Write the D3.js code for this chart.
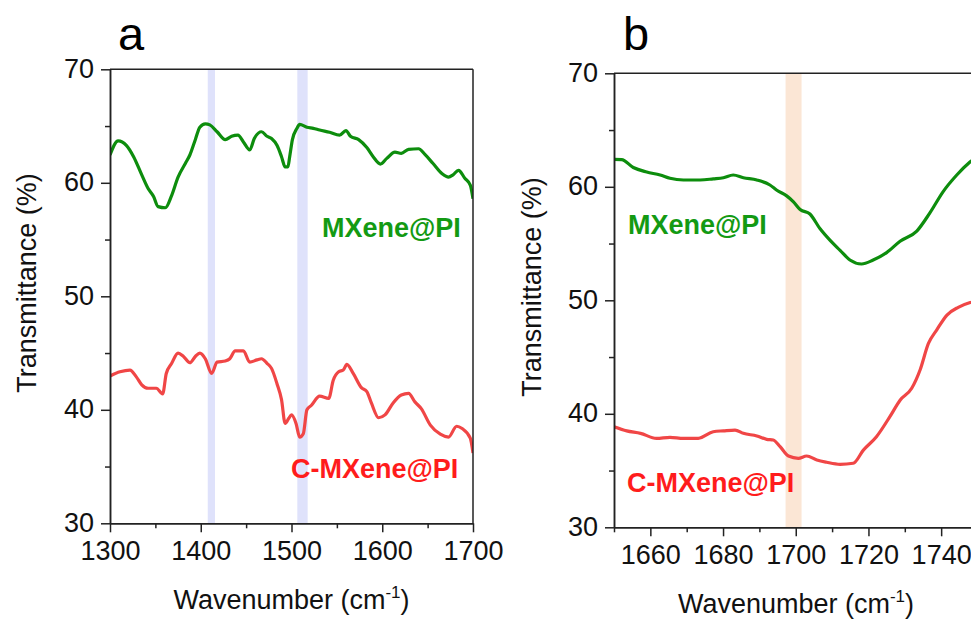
<!DOCTYPE html>
<html>
<head>
<meta charset="utf-8">
<script src="https://cdn.jsdelivr.net/npm/d3@7"></script>
<style>
  body { margin: 0; background: #fff; }
  svg { display: block; font-family: "Liberation Sans", Arial, sans-serif; }
</style>
</head>
<body>
<svg id="chart" width="971" height="619"></svg>
<script>
// ---------------- DATA ----------------
// Panel a: wavenumber (cm-1) and transmittance (%)
const aMXeneWn = [1300,1309,1318,1326,1335,1342,1348,1353,1361,1368,1375,1383,1388,1394,1399,1405,1410,1418,1427,1434,1441,1447,1454,1459,1467,1473,1478,1484,1489,1493,1496,1498,1501,1506,1509,1517,1524,1531,1542,1553,1560,1565,1574,1583,1590,1598,1605,1614,1621,1629,1640,1647,1656,1666,1673,1678,1684,1691,1697,1700];
const aMXeneT  = [62.45,63.7,63.3,62.3,60.7,59.5,58.8,57.9,57.8,58.9,60.5,61.7,62.45,63.8,64.9,65.2,65.1,64.5,63.8,64.1,64.2,63.6,62.9,63.9,64.5,64.1,63.9,63.3,62.3,61.4,61.4,62.3,63.8,64.8,65.15,64.9,64.8,64.65,64.45,64.2,64.6,64.1,63.8,63.1,62.3,61.65,62.15,62.7,62.6,62.95,63.0,62.5,61.7,60.8,60.5,60.7,61.1,60.4,59.8,58.6];
const aCMXeneWn = [1300,1311,1322,1329,1335,1342,1351,1358,1362,1368,1375,1381,1388,1394,1399,1405,1412,1418,1427,1432,1438,1447,1454,1462,1467,1473,1478,1484,1489,1493,1497,1500,1505,1509,1513,1517,1522,1531,1541,1546,1552,1557,1561,1568,1577,1583,1588,1596,1603,1612,1621,1629,1636,1643,1653,1664,1673,1682,1688,1697,1700];
const aCMXeneT  = [42.98,43.35,43.5,42.9,42.2,41.9,41.9,41.4,43.2,44.1,45.0,44.7,44.15,44.7,45.0,44.5,43.2,44.2,44.3,44.5,45.2,45.2,44.2,44.4,44.5,44.1,43.65,42.3,40.9,38.8,39.25,39.55,38.8,37.6,37.9,40.0,40.4,41.2,41.0,42.6,43.35,43.5,44.0,43.2,41.95,41.6,40.6,39.3,39.55,40.6,41.3,41.45,40.7,40.1,38.65,37.85,37.6,38.55,38.35,37.5,36.2];

// Panel b
const bMXeneWn = [1650,1652.1,1655.3,1659,1662.7,1665.4,1669.1,1673.7,1677.3,1680.1,1682.8,1685.6,1689.3,1692.9,1694.8,1697.5,1699.3,1701.2,1703.9,1706.7,1709.4,1712.2,1714.9,1718.1,1721.3,1725,1728.7,1733.3,1736.9,1740.6,1744.3,1748,1750];
const bMXeneT  = [62.42,62.4,61.7,61.3,61.04,60.75,60.6,60.6,60.7,60.8,61.04,60.8,60.6,60.16,59.7,59.2,58.7,58.0,57.6,56.3,55.3,54.4,53.55,53.2,53.55,54.2,55.2,56.1,57.7,59.6,61.04,62.2,62.7];
const bCMXeneWn = [1650,1653.5,1657.3,1661.7,1665.4,1669.1,1673.2,1677.3,1680.1,1683.3,1685.6,1689.3,1692,1693.8,1695.7,1698,1700.7,1703,1705.8,1708.5,1712.2,1715.8,1718.6,1722.2,1725.9,1728.7,1731.9,1734.2,1736.5,1738.8,1741.6,1744.7,1748,1750];
const bCMXeneT  = [38.86,38.5,38.28,37.84,37.93,37.84,37.84,38.42,38.5,38.57,38.28,38.05,37.75,37.69,37.1,36.28,36.08,36.28,35.93,35.73,35.55,35.64,36.8,37.98,39.75,41.2,42.25,43.86,46.2,47.4,48.7,49.38,49.8,49.95];

// Highlight bands [from, to] in cm-1
const aBands = [[1407.7, 1415.7], [1506.4, 1517.8]];
const bBands = [[1697.2, 1701.6]];

// Axis ticks
const aXTicks = [1300, 1400, 1500, 1600, 1700];
const aXMinor = [1350, 1450, 1550, 1650];
const bXTicks = [1660, 1680, 1700, 1720, 1740];
const bXMinor = [1650, 1670, 1690, 1710, 1730, 1750];
const yTicks = [30, 40, 50, 60, 70];
const yMinor = [35, 45, 55, 65];

const seriesNames = ["MXene@PI", "C-MXene@PI"];
const panelLetters = ["a", "b"];

// ---------------- STYLE ----------------
const GREEN_LINE = "#0d8d0d", RED_LINE = "#f04646";
const GREEN_TEXT = "#139a13", RED_TEXT = "#ff1c1c";
const AXIS = "#222";

const svg = d3.select("#chart");

function panel(cfg) {
  const x = d3.scaleLinear().domain(cfg.xDomain).range([cfg.left, cfg.right]);
  const y = d3.scaleLinear().domain([30, 70]).range([cfg.bottom, cfg.top]);
  const g = svg.append("g");

  // bands
  g.selectAll("rect.band").data(cfg.bands).enter().append("rect")
    .attr("x", d => x(d[0])).attr("width", d => x(d[1]) - x(d[0]))
    .attr("y", cfg.top).attr("height", cfg.bottom - cfg.top)
    .attr("fill", cfg.bandColor);

  // clip
  const clipId = "clip" + cfg.id;
  svg.append("clipPath").attr("id", clipId).append("rect")
    .attr("x", cfg.left).attr("y", cfg.top)
    .attr("width", cfg.right - cfg.left).attr("height", cfg.bottom - cfg.top);

  const line = d3.line().curve(d3.curveMonotoneX).x(d => x(d[0])).y(d => y(d[1]));
  cfg.series.forEach(s => {
    g.append("path")
      .datum(s.wn.map((w, i) => [w, s.t[i]]))
      .attr("clip-path", `url(#${clipId})`)
      .attr("fill", "none").attr("stroke", s.color)
      .attr("stroke-width", 3.2).attr("stroke-linejoin", "round")
      .attr("d", line);
  });

  // frame lines (top & right)
  g.append("line").attr("x1", cfg.left).attr("x2", cfg.frameRight).attr("y1", cfg.top).attr("y2", cfg.top)
    .attr("stroke", AXIS).attr("stroke-width", 1.5);
  if (cfg.showRight) {
    g.append("line").attr("x1", cfg.right).attr("x2", cfg.right).attr("y1", cfg.top).attr("y2", cfg.bottom)
      .attr("stroke", AXIS).attr("stroke-width", 1.5);
  }

  // axes
  const xAx = g.append("g").attr("transform", `translate(0,${cfg.bottom})`)
    .call(d3.axisBottom(x).tickValues(cfg.xTicks).tickSize(9).tickSizeOuter(0).tickPadding(4).tickFormat(d3.format("d")));
  const xMin = g.append("g").attr("transform", `translate(0,${cfg.bottom})`)
    .call(d3.axisBottom(x).tickValues(cfg.xMinor).tickSize(5).tickSizeOuter(0).tickFormat(""));
  const yAx = g.append("g").attr("transform", `translate(${cfg.left},0)`)
    .call(d3.axisLeft(y).tickValues(yTicks).tickSize(9).tickSizeOuter(0).tickPadding(7));
  const yMin = g.append("g").attr("transform", `translate(${cfg.left},0)`)
    .call(d3.axisLeft(y).tickValues(yMinor).tickSize(5).tickSizeOuter(0).tickFormat(""));
  [xAx, xMin, yAx, yMin].forEach(a => {
    a.selectAll("path.domain").attr("stroke", AXIS).attr("stroke-width", 1.5);
    a.selectAll(".tick line").attr("stroke", AXIS).attr("stroke-width", 1.5);
    a.selectAll("text").attr("font-size", 27).attr("fill", "#111")
      .attr("font-family", '"Liberation Sans", Arial, sans-serif');
  });
  xAx.selectAll(".tick text").attr("dy", null).attr("y", 37);
  yAx.selectAll(".tick text").attr("dy", "0.3em");

  // x title
  const xt = g.append("text").attr("x", cfg.xTitleX).attr("y", cfg.bottom + 86)
    .attr("text-anchor", "middle").attr("font-size", 27).attr("fill", "#111");
  xt.append("tspan").text("Wavenumber (cm");
  xt.append("tspan").attr("font-size", 17).attr("dy", -11).text("-1");
  xt.append("tspan").attr("dy", 11).text(")");

  // y title
  g.append("text").attr("transform", `translate(${cfg.yTitleX},${cfg.yTitleY}) rotate(-90)`)
    .attr("text-anchor", "middle").attr("font-size", 27).attr("fill", "#111")
    .text("Transmittance (%)");

  // panel letter
  g.append("text").attr("x", cfg.letterX).attr("y", 50).attr("font-size", 47).attr("fill", "#000")
    .text(cfg.letter);

  // series labels
  cfg.labels.forEach(l => {
    g.append("text").attr("x", l.x).attr("y", l.y).attr("font-size", 27).attr("font-weight", "bold")
      .attr("fill", l.color).text(l.text);
  });
}

panel({
  id: "a", letter: panelLetters[0], letterX: 118,
  xDomain: [1300, 1700], left: 110, right: 473, frameRight: 473, showRight: true,
  top: 69.3, bottom: 523.3,
  bands: aBands, bandColor: "#dfe2fb",
  series: [
    { wn: aMXeneWn, t: aMXeneT, color: GREEN_LINE },
    { wn: aCMXeneWn, t: aCMXeneT, color: RED_LINE }
  ],
  xTicks: aXTicks, xMinor: aXMinor,
  xTitleX: 291.5, yTitleX: 36, yTitleY: 283,
  labels: [
    { text: seriesNames[0], x: 322, y: 237, color: GREEN_TEXT },
    { text: seriesNames[1], x: 291, y: 478, color: RED_TEXT }
  ]
});

panel({
  id: "b", letter: panelLetters[1], letterX: 623,
  xDomain: [1650, 1750], left: 614, right: 614 + 100 * 3.635, frameRight: 971, showRight: false,
  top: 73.3, bottom: 527.3,
  bands: bBands, bandColor: "#fbe6d5",
  series: [
    { wn: bMXeneWn, t: bMXeneT, color: GREEN_LINE },
    { wn: bCMXeneWn, t: bCMXeneT, color: RED_LINE }
  ],
  xTicks: bXTicks, xMinor: bXMinor,
  xTitleX: 796, yTitleX: 541, yTitleY: 287,
  labels: [
    { text: seriesNames[0], x: 628, y: 234, color: GREEN_TEXT },
    { text: seriesNames[1], x: 627, y: 492, color: RED_TEXT }
  ]
});
</script>
</body>
</html>
